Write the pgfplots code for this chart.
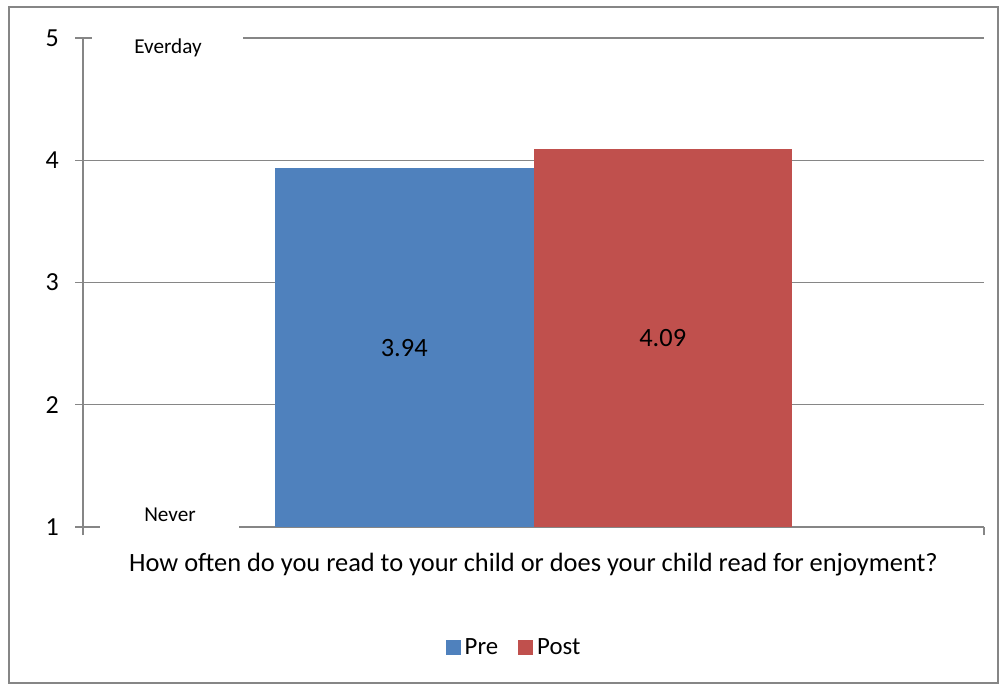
\documentclass[border=0pt]{standalone}
\usepackage{pgfplots}
\pgfplotsset{compat=1.18}
\usepackage{fontspec}
\setmainfont{Carlito}
\definecolor{preblue}{HTML}{4F81BD}
\definecolor{postred}{HTML}{C0504D}
\definecolor{gridgray}{HTML}{868686}
\begin{document}
\begin{tikzpicture}
\path[use as bounding box] (-41.5pt,-79pt) rectangle (458.5pt,263.5pt);
\draw[gridgray, line width=0.6pt] (-37pt,-78pt) rectangle (457.5pt,260pt);
\begin{axis}[
  at={(0pt,0pt)}, anchor=south west,
  scale only axis, width=450.5pt, height=244.5pt,
  xmin=0, xmax=1, ymin=1, ymax=5,
  axis x line*=bottom, axis y line*=left,
  axis line style={gridgray, line width=0.6pt, -},
  xtick={0,1}, xticklabels={},
  ytick={1,2,3,4,5},
  ymajorgrids, grid style={gridgray, line width=0.6pt},
  tick align=outside, major tick length=4pt,
  tick style={gridgray, line width=0.6pt},
  /pgf/number format/assume math mode=true,
  yticklabel style={font=\fontsize{13}{15}\selectfont, xshift=-4.6pt},
  xlabel={How often do you read to your child or does your child read for enjoyment?},
  xlabel style={at={(axis description cs:0.5,-0.0777)}, anchor=center, font=\fontsize{13.2}{15}\selectfont},
  legend columns=2,
  legend style={draw=none, at={(axis description cs:0.4795,-0.2474)}, anchor=center,
    font=\fontsize{12.4}{14}\selectfont, /tikz/every even column/.append style={column sep=8pt}},
  legend cell align=left,
]
\addplot[ybar, bar width=0.2869, bar shift=0pt, fill=preblue, draw=none,
  legend image code/.code={\fill[preblue] (0pt,-3.75pt) rectangle (7.5pt,3.75pt);}]
  coordinates {(0.35655,3.94)};
\addplot[ybar, bar width=0.2869, bar shift=0pt, fill=postred, draw=none,
  legend image code/.code={\fill[postred] (0pt,-3.75pt) rectangle (7.5pt,3.75pt);}]
  coordinates {(0.64345,4.09)};
\addplot[draw=none, mark=none, nodes near coords, point meta=explicit symbolic,
  every node near coord/.style={anchor=center, font=\fontsize{13.2}{15}\selectfont, text=black}]
  coordinates {(0.35655,2.46) [3.94] (0.64345,2.545) [4.09]};
\legend{Pre,Post}
\end{axis}
\fill[white] (4.5pt,237pt) rectangle (80pt,252pt);
\node[font=\fontsize{10.6}{12}\selectfont] at (42.5pt,239.5pt) {Everday};
\fill[white] (8.5pt,-1pt) rectangle (78pt,12pt);
\node[font=\fontsize{10.6}{12}\selectfont] at (43.5pt,6pt) {Never};
\end{tikzpicture}
\end{document}
